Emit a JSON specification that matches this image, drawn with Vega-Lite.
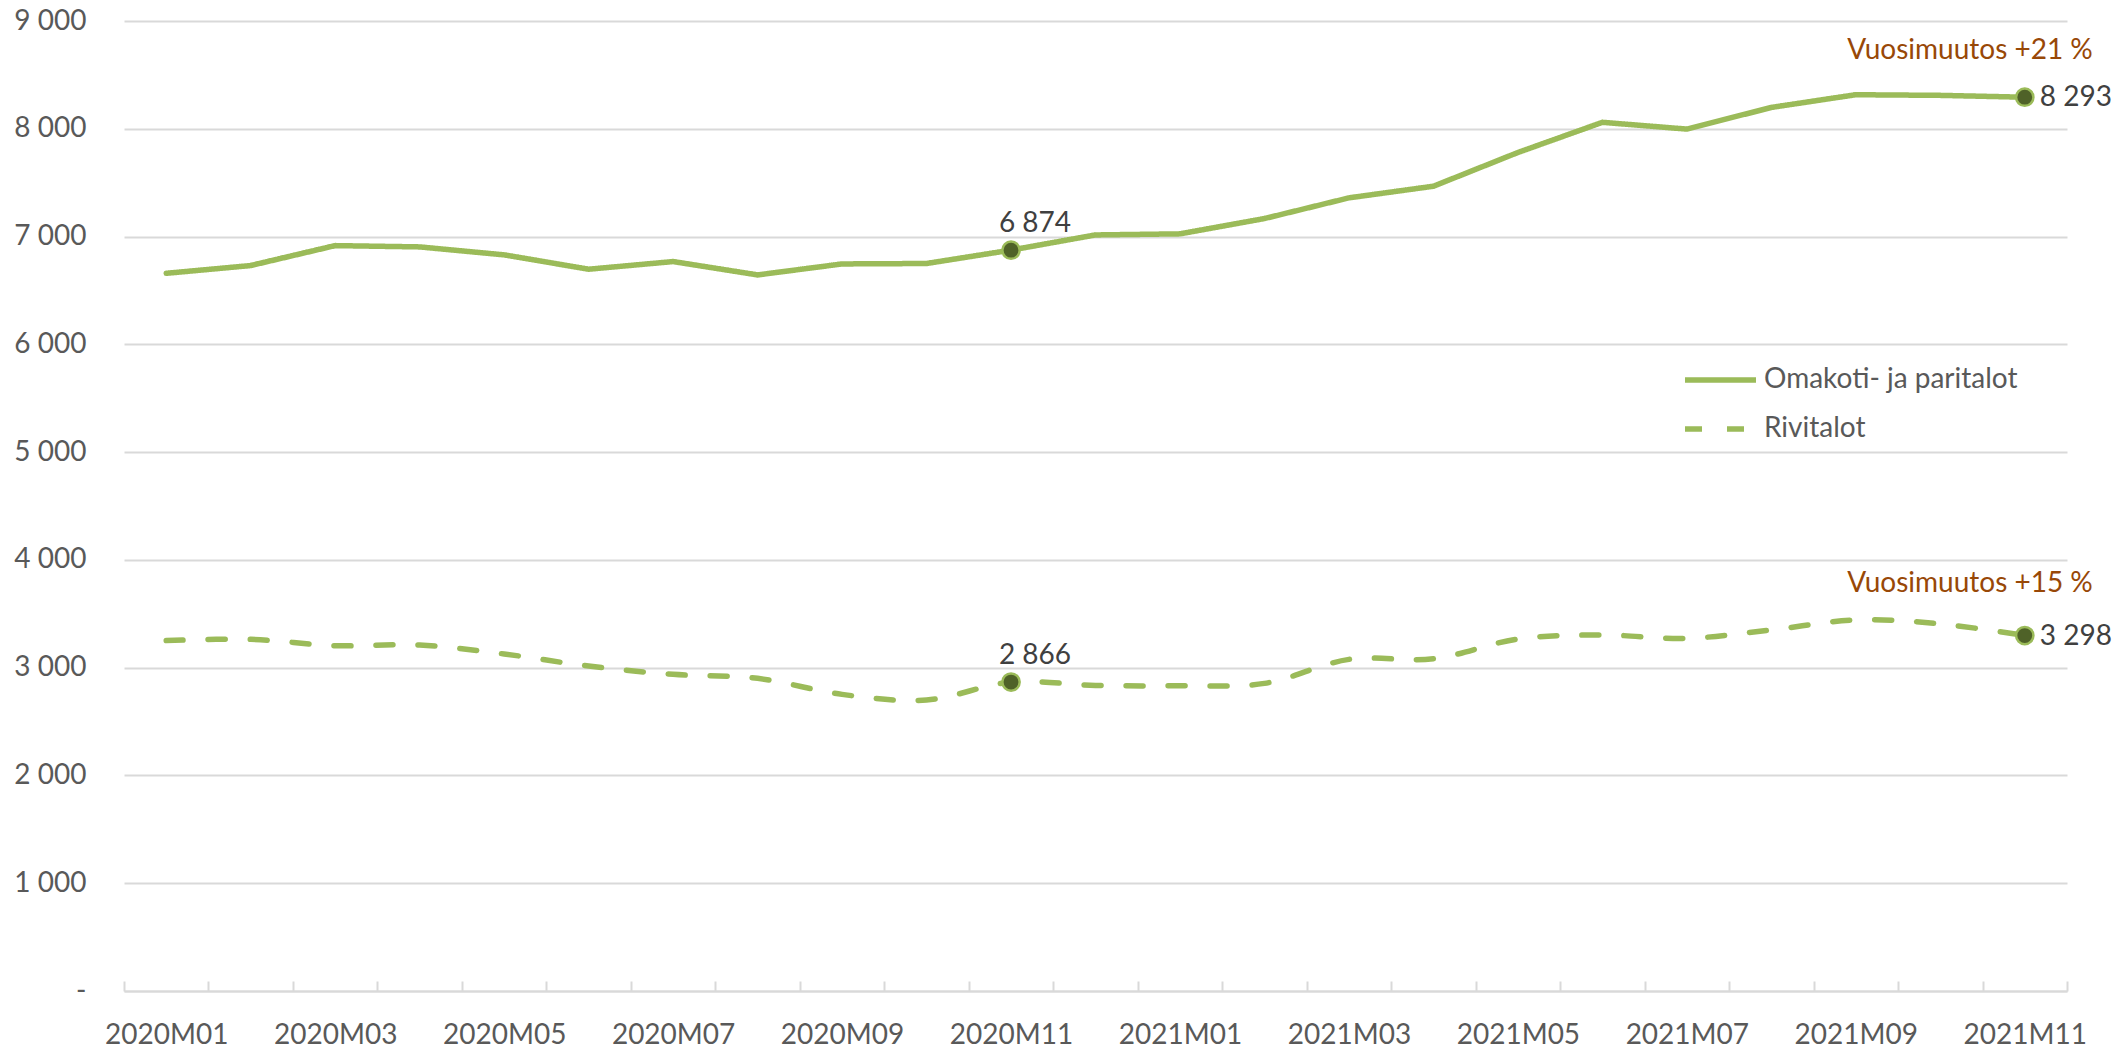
{
  "$schema": "https://vega.github.io/schema/vega-lite/v6.json",
  "width": 1943,
  "height": 970,
  "autosize": {"type": "none"},
  "padding": {"left": 124, "top": 21, "right": 52, "bottom": 57},
  "background": "white",
  "config": {
    "view": {"stroke": null},
    "font": "Lato",
    "legend": {
      "orient": "none",
      "legendX": 1558,
      "legendY": 336,
      "symbolType": "stroke",
      "symbolSize": 5041,
      "symbolStrokeWidth": 5.5,
      "labelFontSize": 28,
      "labelFont": "Lato",
      "labelColor": "#595959",
      "labelOffset": 5,
      "labelLimit": 500,
      "clipHeight": 46,
      "rowPadding": 3,
      "title": null
    }
  },
  "datasets": {
    "main": [
      {"month": "2020M01", "series": "Omakoti- ja paritalot", "value": 6659},
      {"month": "2020M02", "series": "Omakoti- ja paritalot", "value": 6731},
      {"month": "2020M03", "series": "Omakoti- ja paritalot", "value": 6916},
      {"month": "2020M04", "series": "Omakoti- ja paritalot", "value": 6904},
      {"month": "2020M05", "series": "Omakoti- ja paritalot", "value": 6830},
      {"month": "2020M06", "series": "Omakoti- ja paritalot", "value": 6697},
      {"month": "2020M07", "series": "Omakoti- ja paritalot", "value": 6768},
      {"month": "2020M08", "series": "Omakoti- ja paritalot", "value": 6644},
      {"month": "2020M09", "series": "Omakoti- ja paritalot", "value": 6746},
      {"month": "2020M10", "series": "Omakoti- ja paritalot", "value": 6750},
      {"month": "2020M11", "series": "Omakoti- ja paritalot", "value": 6874},
      {"month": "2020M12", "series": "Omakoti- ja paritalot", "value": 7015},
      {"month": "2021M01", "series": "Omakoti- ja paritalot", "value": 7025},
      {"month": "2021M02", "series": "Omakoti- ja paritalot", "value": 7167},
      {"month": "2021M03", "series": "Omakoti- ja paritalot", "value": 7359},
      {"month": "2021M04", "series": "Omakoti- ja paritalot", "value": 7467},
      {"month": "2021M05", "series": "Omakoti- ja paritalot", "value": 7780},
      {"month": "2021M06", "series": "Omakoti- ja paritalot", "value": 8060},
      {"month": "2021M07", "series": "Omakoti- ja paritalot", "value": 7997},
      {"month": "2021M08", "series": "Omakoti- ja paritalot", "value": 8198},
      {"month": "2021M09", "series": "Omakoti- ja paritalot", "value": 8316},
      {"month": "2021M10", "series": "Omakoti- ja paritalot", "value": 8310},
      {"month": "2021M11", "series": "Omakoti- ja paritalot", "value": 8293},
      {"month": "2020M01", "series": "Rivitalot", "value": 3251},
      {"month": "2020M02", "series": "Rivitalot", "value": 3263},
      {"month": "2020M03", "series": "Rivitalot", "value": 3204},
      {"month": "2020M04", "series": "Rivitalot", "value": 3210},
      {"month": "2020M05", "series": "Rivitalot", "value": 3127},
      {"month": "2020M06", "series": "Rivitalot", "value": 3015},
      {"month": "2020M07", "series": "Rivitalot", "value": 2938},
      {"month": "2020M08", "series": "Rivitalot", "value": 2901},
      {"month": "2020M09", "series": "Rivitalot", "value": 2752},
      {"month": "2020M10", "series": "Rivitalot", "value": 2700},
      {"month": "2020M11", "series": "Rivitalot", "value": 2866},
      {"month": "2020M12", "series": "Rivitalot", "value": 2835},
      {"month": "2021M01", "series": "Rivitalot", "value": 2833},
      {"month": "2021M02", "series": "Rivitalot", "value": 2854},
      {"month": "2021M03", "series": "Rivitalot", "value": 3077},
      {"month": "2021M04", "series": "Rivitalot", "value": 3082},
      {"month": "2021M05", "series": "Rivitalot", "value": 3266},
      {"month": "2021M06", "series": "Rivitalot", "value": 3303},
      {"month": "2021M07", "series": "Rivitalot", "value": 3272},
      {"month": "2021M08", "series": "Rivitalot", "value": 3350},
      {"month": "2021M09", "series": "Rivitalot", "value": 3443},
      {"month": "2021M10", "series": "Rivitalot", "value": 3406},
      {"month": "2021M11", "series": "Rivitalot", "value": 3298}
    ]
  },
  "data": {"name": "main"},
  "transform": [
    {"calculate": "replace(format(datum.value, ','), ',', ' ')", "as": "label"}
  ],
  "encoding": {
    "x": {
      "field": "month",
      "type": "ordinal",
      "bandPosition": 0.5,
      "scale": {"type": "band", "paddingInner": 0, "paddingOuter": 0},
      "axis": {
        "title": null,
        "labelAngle": 0,
        "tickBand": "extent",
        "domainColor": "#d9d9d9",
        "domainWidth": 2,
        "tickColor": "#d9d9d9",
        "tickWidth": 2,
        "tickSize": -10,
        "labelPadding": 40,
        "labelFontSize": 28,
        "labelFont": "Lato",
        "labelColor": "#595959",
        "labelOverlap": false,
        "grid": false,
        "labelExpr": "toNumber(substring(datum.label, 5, 7)) % 2 == 1 ? datum.label : ''"
      }
    },
    "y": {
      "field": "value",
      "type": "quantitative",
      "scale": {"domain": [0, 9000], "nice": false, "zero": true},
      "axis": {
        "title": null,
        "values": [0, 1000, 2000, 3000, 4000, 5000, 6000, 7000, 8000, 9000],
        "domain": false,
        "ticks": false,
        "grid": true,
        "gridColor": "#d9d9d9",
        "gridWidth": 2,
        "labelPadding": 38,
        "labelFontSize": 28,
        "labelFont": "Lato",
        "labelColor": "#595959",
        "labelExpr": "datum.value == 0 ? '-\u2002' : replace(format(datum.value, ','), ',', ' ')"
      }
    }
  },
  "layer": [
    {
      "transform": [{"filter": "datum.series === 'Omakoti- ja paritalot'"}],
      "mark": {"type": "line", "strokeWidth": 5.5, "strokeCap": "round", "strokeJoin": "round"},
      "encoding": {
        "color": {"field": "series", "type": "nominal", "scale": {"domain": ["Omakoti- ja paritalot", "Rivitalot"], "range": ["#9bbb59", "#9bbb59"]}, "legend": {"title": null}},
        "strokeDash": {"field": "series", "type": "nominal", "scale": {"domain": ["Omakoti- ja paritalot", "Rivitalot"], "range": [[1, 0], [17, 25]]}, "legend": {"title": null}}
      }
    },
    {
      "transform": [{"filter": "datum.series === 'Rivitalot'"}],
      "mark": {"type": "line", "interpolate": "cardinal", "strokeWidth": 5.5, "strokeCap": "round", "strokeJoin": "round"},
      "encoding": {
        "color": {"field": "series", "type": "nominal", "scale": {"domain": ["Omakoti- ja paritalot", "Rivitalot"], "range": ["#9bbb59", "#9bbb59"]}, "legend": {"title": null}},
        "strokeDash": {"field": "series", "type": "nominal", "scale": {"domain": ["Omakoti- ja paritalot", "Rivitalot"], "range": [[1, 0], [17, 25]]}, "legend": {"title": null}}
      }
    },
    {
      "transform": [{"filter": "datum.month === '2020M11' || datum.month === '2021M11'"}],
      "mark": {"type": "point", "filled": true, "size": 300, "fill": "#4f6228", "stroke": "#9bbb59", "strokeWidth": 2.5, "opacity": 1}
    },
    {
      "transform": [{"filter": "datum.month === '2020M11'"}],
      "mark": {"type": "text", "fontSize": 28, "font": "Lato", "color": "#404040", "align": "center", "baseline": "alphabetic", "dx": 24, "dy": -18},
      "encoding": {"text": {"field": "label"}}
    },
    {
      "transform": [{"filter": "datum.month === '2021M11'"}],
      "mark": {"type": "text", "fontSize": 28, "font": "Lato", "color": "#404040", "align": "left", "baseline": "middle", "dx": 15, "dy": 1},
      "encoding": {"text": {"field": "label"}}
    },
    {
      "transform": [{"filter": "datum.month === '2021M11' && datum.series === 'Omakoti- ja paritalot'"}],
      "mark": {"type": "text", "text": "Vuosimuutos +21 %", "fontSize": 28, "font": "Lato", "color": "#984807", "align": "right", "baseline": "alphabetic", "dx": 68, "dy": -38}
    },
    {
      "transform": [{"filter": "datum.month === '2021M11' && datum.series === 'Rivitalot'"}],
      "mark": {"type": "text", "text": "Vuosimuutos +15 %", "fontSize": 28, "font": "Lato", "color": "#984807", "align": "right", "baseline": "alphabetic", "dx": 68, "dy": -44}
    }
  ]
}
